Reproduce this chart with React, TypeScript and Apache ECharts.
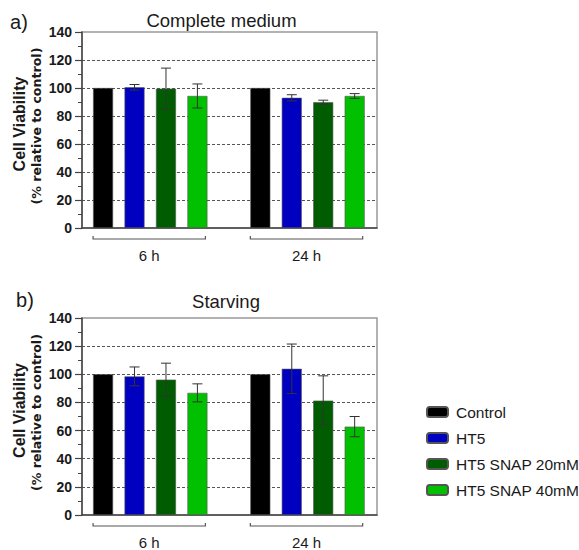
import React, { useEffect, useRef } from "react";
import * as echarts from "echarts";

// ---- data ----
const groupLabels = ["6 h", "24 h"];
const treatments = ["Control", "HT5", "HT5 SNAP 20mM", "HT5 SNAP 40mM"];
const treatmentColors = ["#000000", "#0000c0", "#005c00", "#00c000"];
const yTicks = [0, 20, 40, 60, 80, 100, 120, 140];

// Complete medium (mean per group: 6 h, 24 h)
const completeControl = [100, 100];
const completeHT5 = [100.5, 93];
const completeSnap20 = [99.5, 89.8];
const completeSnap40 = [94.3, 94.3];
const completeControlErr = [0, 0];
const completeHT5Err = [2, 2.2];
const completeSnap20Err = [14.7, 1.5];
const completeSnap40Err = [8.6, 1.7];

// Starving
const starvingControl = [100, 100];
const starvingHT5 = [98.5, 103.9];
const starvingSnap20 = [96.2, 81.3];
const starvingSnap40 = [86.8, 62.8];
const starvingControlErr = [0, 0];
const starvingHT5Err = [6.7, 17.6];
const starvingSnap20Err = [11.7, 17.6];
const starvingSnap40Err = [6.4, 7.2];

const yNameLine1 = "Cell Viability";
const yNameLine2 = "(% relative to control)";

const panels = [
  {
    title: "Complete medium",
    tag: "a)",
    means: [completeControl, completeHT5, completeSnap20, completeSnap40],
    errs: [completeControlErr, completeHT5Err, completeSnap20Err, completeSnap40Err],
  },
  {
    title: "Starving",
    tag: "b)",
    means: [starvingControl, starvingHT5, starvingSnap20, starvingSnap40],
    errs: [starvingControlErr, starvingHT5Err, starvingSnap20Err, starvingSnap40Err],
  },
];

// ---- layout ----
const FONT = "'Liberation Sans', Arial, sans-serif";
const FONT2 = "'DejaVu Sans', Verdana, sans-serif";
const GROUP_STRIDE = treatments.length + 1; // one blank slot between groups
const BAR_W = 20;
const grids = [
  { left: 82, top: 32, width: 295, height: 196 },
  { left: 82, top: 318, width: 295, height: 197 },
];
const titlePos = [
  { x: 221.5, y: 20 },
  { x: 226, y: 301 },
];
const tagPos = [
  { x: 19, y: 22 },
  { x: 25, y: 300 },
];

const slot = (g: number, t: number) => g * GROUP_STRIDE + t;

const centeredText = (text: string, x: number, y: number, font: string, rotation = 0) => ({
  type: "text",
  x,
  y,
  rotation,
  style: {
    text,
    fill: "#1a1a1a",
    font,
    align: "center",
    verticalAlign: "middle",
    textAlign: "center",
    textVerticalAlign: "middle",
  },
});

function buildOption() {
  const xAxis: any[] = [];
  const yAxis: any[] = [];
  const series: any[] = [];
  const graphic: any[] = [];

  panels.forEach((p, gi) => {
    xAxis.push({
      type: "value",
      gridIndex: gi,
      min: -0.67,
      max: slot(groupLabels.length - 1, treatments.length - 1) + 0.71,
      axisLine: { show: true, onZero: false, lineStyle: { color: "#444", width: 1.5 } },
      axisTick: { show: false },
      axisLabel: { show: false },
      splitLine: { show: false },
    });
    yAxis.push({
      type: "value",
      gridIndex: gi,
      min: yTicks[0],
      max: yTicks[yTicks.length - 1],
      interval: yTicks[1] - yTicks[0],
      axisLine: { show: true, onZero: false, lineStyle: { color: "#444", width: 1.5 } },
      axisTick: { show: true, length: 7, lineStyle: { color: "#444", width: 1.2 } },
      minorTick: { show: true, splitNumber: 2, length: 4, lineStyle: { color: "#444", width: 1 } },
      axisLabel: {
        color: "#1a1a1a",
        fontFamily: FONT,
        fontWeight: "bold",
        fontSize: 14,
        margin: 10,
      },
      splitLine: {
        show: true,
        lineStyle: {
          color: yTicks.map((v, i) => (i === 0 || i === yTicks.length - 1 ? "rgba(0,0,0,0)" : "#555")),
          type: [3, 2],
          width: 1,
        },
      },
    });

    treatments.forEach((name, ti) => {
      series.push({
        type: "bar",
        name,
        xAxisIndex: gi,
        yAxisIndex: gi,
        barWidth: BAR_W,
        barGap: "-100%",
        itemStyle: { color: treatmentColors[ti], borderColor: "#555", borderWidth: 0.6 },
        data: groupLabels.map((_, g) => [slot(g, ti), p.means[ti][g]]),
        z: 2,
      });
    });

    // error bars
    const errData: number[][] = [];
    treatments.forEach((_, ti) => {
      groupLabels.forEach((__, g) => {
        const m = p.means[ti][g];
        const e = p.errs[ti][g];
        if (e > 0) errData.push([slot(g, ti), m - e, m + e]);
      });
    });
    series.push({
      type: "custom",
      xAxisIndex: gi,
      yAxisIndex: gi,
      z: 5,
      silent: true,
      encode: { x: 0, y: [1, 2] },
      data: errData,
      renderItem: (_params: any, api: any) => {
        const x = api.value(0);
        const lo = api.coord([x, api.value(1)]);
        const hi = api.coord([x, api.value(2)]);
        const hw = 5;
        const st = { stroke: "#333", lineWidth: 1 };
        return {
          type: "group",
          children: [
            { type: "line", shape: { x1: lo[0], y1: lo[1], x2: hi[0], y2: hi[1] }, style: st },
            { type: "line", shape: { x1: hi[0] - hw, y1: hi[1], x2: hi[0] + hw, y2: hi[1] }, style: st },
            { type: "line", shape: { x1: lo[0] - hw, y1: lo[1], x2: lo[0] + hw, y2: lo[1] }, style: st },
          ],
        };
      },
    });

    // group brackets + labels
    series.push({
      type: "custom",
      xAxisIndex: gi,
      yAxisIndex: gi,
      silent: true,
      clip: false,
      encode: { x: [0, 1], y: 2 },
      data: groupLabels.map((_, g) => [slot(g, 0), slot(g, treatments.length - 1), 0]),
      renderItem: (params: any, api: any) => {
        const a = api.coord([api.value(0), api.value(2)]);
        const b = api.coord([api.value(1), api.value(2)]);
        const x0 = a[0] - BAR_W / 2;
        const x1 = b[0] + BAR_W / 2 - 2;
        const y = a[1] + 11;
        return {
          type: "group",
          children: [
            {
              type: "polyline",
              shape: { points: [[x0, y - 3], [x0, y], [x1, y], [x1, y - 3]] },
              style: { stroke: "#555", lineWidth: 1.2, fill: null },
            },
            {
              type: "text",
              x: (x0 + x1) / 2,
              y: a[1] + 27,
              style: {
                text: groupLabels[params.dataIndex],
                fill: "#1a1a1a",
                font: `15px ${FONT}`,
                lineHeight: 15,
                align: "center",
                verticalAlign: "middle",
                textAlign: "center",
                textVerticalAlign: "middle",
              },
            },
          ],
        };
      },
    });

    const g = grids[gi];
    const cy = g.top + g.height / 2;
    graphic.push(centeredText(p.title, titlePos[gi].x, titlePos[gi].y, `18.5px ${FONT}`));
    graphic.push(centeredText(p.tag, tagPos[gi].x, tagPos[gi].y, `20px ${FONT}`));
    graphic.push(centeredText(yNameLine1, g.left - 63, cy - 6, `bold 16px ${FONT}`, Math.PI / 2));
    graphic.push(centeredText(yNameLine2, g.left - 46, cy - 4, `bold 12.6px ${FONT2}`, Math.PI / 2));
  });

  return {
    animation: false,
    backgroundColor: "#ffffff",
    grid: grids.map((g) => ({ ...g, show: true, borderColor: "#999", borderWidth: 1.5, backgroundColor: "transparent" })),
    xAxis,
    yAxis,
    legend: {
      data: treatments,
      orient: "vertical",
      left: 421,
      top: 399,
      itemWidth: 21,
      itemHeight: 10,
      itemGap: 10,
      textStyle: { fontFamily: FONT, fontSize: 15.5, lineHeight: 16, color: "#1a1a1a", padding: [0, 0, 0, 3] },
      selectedMode: false,
    },
    graphic,
    series,
  };
}

export default function App() {
  const ref = useRef<HTMLDivElement>(null);
  useEffect(() => {
    if (!ref.current) return;
    const chart = echarts.init(ref.current, undefined, { renderer: "svg" });
    chart.setOption(buildOption() as any);
    return () => chart.dispose();
  }, []);
  return (
    <div
      ref={ref}
      style={{ position: "absolute", left: 0, top: 0, width: 579, height: 550, background: "#fff" }}
    />
  );
}
